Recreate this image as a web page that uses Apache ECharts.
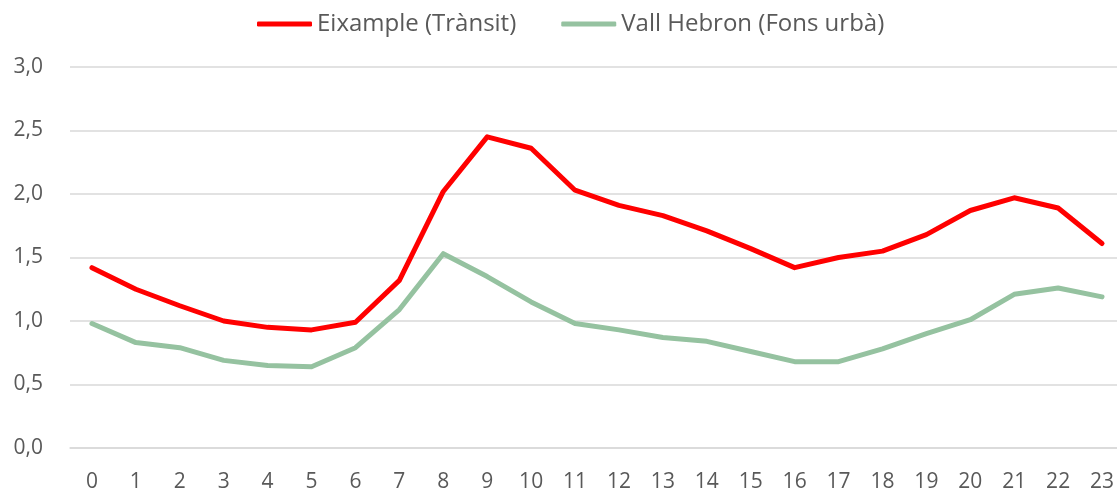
<!DOCTYPE html>
<html>
<head>
<meta charset="utf-8">
<script src="https://cdn.jsdelivr.net/npm/echarts@6/dist/echarts.min.js"></script>
<style>
  html, body { margin: 0; padding: 0; background: #fff; }
  #chart { width: 1117px; height: 493px; }
</style>
</head>
<body>
<div id="chart"></div>
<script>
const hours = ['0','1','2','3','4','5','6','7','8','9','10','11','12','13','14','15','16','17','18','19','20','21','22','23']
const eixample = [1.42, 1.25, 1.12, 1.00, 0.95, 0.93, 0.99, 1.32, 2.02, 2.45, 2.36, 2.03, 1.91, 1.83, 1.71, 1.57, 1.42, 1.50, 1.55, 1.68, 1.87, 1.97, 1.89, 1.61]
const vallHebron = [0.98, 0.83, 0.79, 0.69, 0.65, 0.64, 0.79, 1.09, 1.53, 1.35, 1.15, 0.98, 0.93, 0.87, 0.84, 0.76, 0.68, 0.68, 0.78, 0.90, 1.01, 1.21, 1.26, 1.19]
const seriesNames = ['Eixample (Trànsit)', 'Vall Hebron (Fons urbà)']
const colors = ['#FF0000', '#95C2A0']

const font = '"Open Sans", sans-serif'
const chart = echarts.init(document.getElementById('chart'), null, { renderer: 'canvas' })

const option = {
  animation: false,
  color: colors,
  legend: {
    top: 7,
    left: 252,
    itemWidth: 55,
    itemHeight: 5,
    itemGap: 45,
    icon: 'roundRect',
    textStyle: { color: '#595959', fontSize: 24, fontFamily: font },
    data: seriesNames
  },
  grid: {
    left: 70,
    top: 67,
    width: 1054,
    height: 381,
    outerBoundsMode: 'none'
  },
  xAxis: {
    type: 'category',
    data: hours,
    boundaryGap: true,
    axisLine: { lineStyle: { color: '#D9D9D9', width: 1.5 } },
    axisTick: { show: false },
    axisLabel: { color: '#595959', fontSize: 21, fontFamily: font, margin: 24, interval: 0 }
  },
  yAxis: {
    type: 'value',
    min: 0,
    max: 3,
    interval: 0.5,
    axisLine: { show: false },
    axisTick: { show: false },
    splitLine: { lineStyle: { color: '#D9D9D9', width: 1.5 } },
    axisLabel: {
      color: '#595959', fontSize: 21, fontFamily: font, margin: 27,
      formatter: v => v.toFixed(1).replace('.', ',')
    }
  },
  series: [
    {
      name: seriesNames[0],
      type: 'line',
      data: eixample,
      showSymbol: false,
      lineStyle: { width: 5, cap: 'round', join: 'round' }
    },
    {
      name: seriesNames[1],
      type: 'line',
      data: vallHebron,
      showSymbol: false,
      lineStyle: { width: 5, cap: 'round', join: 'round' }
    }
  ]
}

chart.setOption(option)
window.addEventListener('resize', chart.resize)
</script>
</body>
</html>
